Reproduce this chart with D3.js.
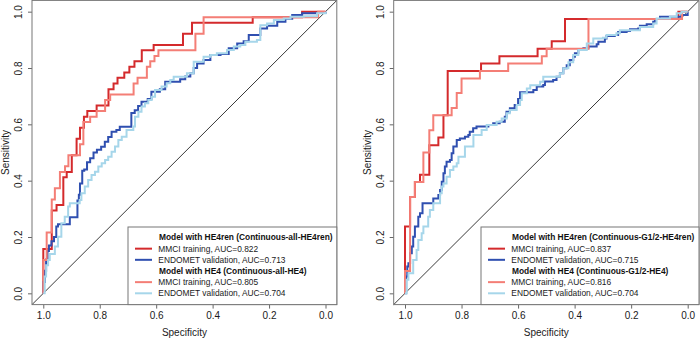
<!DOCTYPE html>
<html>
<head>
<meta charset="utf-8">
<script src="https://cdn.jsdelivr.net/npm/d3@7"></script>
<style>
  body { margin: 0; background: #fff; }
  svg { display: block; font-family: "Liberation Sans", Arial, sans-serif; }
</style>
</head>
<body>
<svg id="chart" width="700" height="349"></svg>
<script>
const tickValues = [0, 0.2, 0.4, 0.6, 0.8, 1.0]

// left panel, all grades - HE4ren model
const allRenTrainSpec = [1, 1, 0.97, 0.953, 0.929, 0.917, 0.899, 0.882, 0.87, 0.856, 0.844, 0.811, 0.769, 0.751, 0.737, 0.713, 0.695, 0.677, 0.651, 0.609, 0.505, 0.473, 0.258, 0.083, 0]
const allRenTrainSens = [0, 0.157, 0.294, 0.314, 0.412, 0.431, 0.49, 0.549, 0.588, 0.627, 0.647, 0.667, 0.725, 0.745, 0.765, 0.784, 0.804, 0.824, 0.863, 0.882, 0.922, 0.961, 0.98, 1, 1]
const allRenValSpec = [1, 1, 0.994, 0.99, 0.985, 0.98, 0.971, 0.962, 0.954, 0.948, 0.906, 0.879, 0.874, 0.87, 0.862, 0.855, 0.845, 0.834, 0.822, 0.81, 0.795, 0.782, 0.77, 0.758, 0.741, 0.729, 0.688, 0.676, 0.664, 0.652, 0.63, 0.617, 0.587, 0.568, 0.515, 0.497, 0.479, 0.467, 0.455, 0.432, 0.408, 0.372, 0.343, 0.313, 0.29, 0.272, 0.231, 0.207, 0.171, 0.142, 0.118, 0.083, 0.03, 0]
const allRenValSens = [0, 0.04, 0.08, 0.12, 0.15, 0.17, 0.185, 0.2, 0.237, 0.245, 0.27, 0.33, 0.35, 0.39, 0.435, 0.44, 0.465, 0.48, 0.5, 0.51, 0.52, 0.538, 0.555, 0.574, 0.58, 0.591, 0.64, 0.65, 0.665, 0.68, 0.69, 0.716, 0.725, 0.751, 0.76, 0.77, 0.781, 0.8, 0.816, 0.828, 0.846, 0.85, 0.87, 0.887, 0.895, 0.917, 0.94, 0.95, 0.964, 0.975, 0.988, 0.994, 0.996, 1]

// left panel, all grades - HE4 model
const allTrainSpec = [1, 1, 0.988, 0.97, 0.959, 0.941, 0.923, 0.911, 0.87, 0.858, 0.834, 0.811, 0.781, 0.763, 0.68, 0.666, 0.633, 0.621, 0.606, 0.592, 0.461, 0.432, 0.026, 0]
const allTrainSens = [0, 0.118, 0.216, 0.333, 0.373, 0.431, 0.451, 0.49, 0.529, 0.608, 0.627, 0.647, 0.686, 0.706, 0.745, 0.765, 0.804, 0.824, 0.843, 0.863, 0.922, 0.98, 1, 1]
const allValSpec = [1, 0.995, 0.99, 0.983, 0.977, 0.959, 0.948, 0.936, 0.924, 0.912, 0.906, 0.871, 0.865, 0.853, 0.841, 0.829, 0.817, 0.805, 0.793, 0.781, 0.77, 0.758, 0.746, 0.734, 0.722, 0.705, 0.681, 0.675, 0.663, 0.652, 0.64, 0.628, 0.616, 0.604, 0.581, 0.563, 0.55, 0.538, 0.491, 0.467, 0.432, 0.408, 0.385, 0.349, 0.325, 0.302, 0.284, 0.243, 0.231, 0.207, 0.183, 0.148, 0.124, 0.077, 0.03, 0]
const allValSens = [0, 0.06, 0.1, 0.118, 0.14, 0.166, 0.201, 0.249, 0.272, 0.308, 0.32, 0.331, 0.355, 0.379, 0.402, 0.42, 0.432, 0.45, 0.462, 0.473, 0.485, 0.503, 0.521, 0.544, 0.556, 0.58, 0.592, 0.627, 0.645, 0.663, 0.675, 0.686, 0.698, 0.722, 0.734, 0.746, 0.757, 0.769, 0.781, 0.822, 0.84, 0.846, 0.852, 0.864, 0.876, 0.882, 0.893, 0.899, 0.952, 0.958, 0.97, 0.976, 0.982, 0.984, 0.994, 1]

// right panel, G1/2 - HE4ren model
const g12RenTrainSpec = [1, 1, 0.982, 0.965, 0.947, 0.914, 0.882, 0.864, 0.849, 0.731, 0.666, 0.531, 0.481, 0.434, 0.033, 0]
const g12RenTrainSens = [0, 0.237, 0.342, 0.395, 0.421, 0.526, 0.553, 0.632, 0.789, 0.816, 0.842, 0.868, 0.895, 0.974, 1, 1]
const g12RenValSpec = [1, 0.996, 0.992, 0.988, 0.982, 0.976, 0.971, 0.965, 0.953, 0.947, 0.938, 0.9, 0.882, 0.876, 0.87, 0.864, 0.859, 0.853, 0.841, 0.835, 0.829, 0.817, 0.806, 0.788, 0.776, 0.771, 0.759, 0.747, 0.705, 0.688, 0.665, 0.647, 0.641, 0.629, 0.612, 0.6, 0.593, 0.546, 0.534, 0.511, 0.505, 0.476, 0.464, 0.452, 0.44, 0.428, 0.417, 0.405, 0.399, 0.387, 0.369, 0.351, 0.322, 0.316, 0.293, 0.287, 0.258, 0.246, 0.216, 0.204, 0.175, 0.169, 0.145, 0.122, 0.116, 0.098, 0.022, 0]
const g12RenValSens = [0, 0.06, 0.095, 0.107, 0.142, 0.166, 0.201, 0.237, 0.272, 0.284, 0.32, 0.337, 0.349, 0.367, 0.396, 0.426, 0.45, 0.467, 0.473, 0.497, 0.521, 0.544, 0.55, 0.556, 0.562, 0.574, 0.586, 0.592, 0.598, 0.604, 0.609, 0.627, 0.645, 0.657, 0.669, 0.69, 0.714, 0.722, 0.734, 0.74, 0.752, 0.757, 0.769, 0.781, 0.799, 0.81, 0.828, 0.84, 0.852, 0.864, 0.87, 0.876, 0.884, 0.893, 0.905, 0.914, 0.917, 0.928, 0.931, 0.938, 0.94, 0.95, 0.955, 0.964, 0.974, 0.982, 0.988, 1]

// right panel, G1/2 - HE4 model
const g12TrainSpec = [1, 1, 0.982, 0.965, 0.935, 0.914, 0.9, 0.835, 0.817, 0.8, 0.735, 0.635, 0.516, 0.499, 0.351, 0.02, 0]
const g12TrainSens = [0, 0.079, 0.342, 0.395, 0.5, 0.579, 0.632, 0.658, 0.711, 0.763, 0.789, 0.816, 0.842, 0.868, 0.974, 1, 1]
const g12ValSpec = [1, 0.994, 0.988, 0.971, 0.959, 0.953, 0.941, 0.935, 0.918, 0.912, 0.9, 0.876, 0.87, 0.864, 0.853, 0.841, 0.829, 0.817, 0.811, 0.788, 0.758, 0.729, 0.711, 0.676, 0.658, 0.64, 0.629, 0.605, 0.593, 0.587, 0.569, 0.557, 0.522, 0.511, 0.452, 0.44, 0.422, 0.405, 0.387, 0.357, 0.334, 0.3, 0.287, 0.252, 0.24, 0.169, 0.122, 0.11, 0.063, 0.039, 0.022, 0]
const g12ValSens = [0, 0.048, 0.071, 0.118, 0.154, 0.189, 0.213, 0.237, 0.272, 0.296, 0.32, 0.355, 0.379, 0.39, 0.414, 0.438, 0.45, 0.462, 0.485, 0.521, 0.562, 0.58, 0.598, 0.609, 0.621, 0.639, 0.651, 0.669, 0.686, 0.71, 0.727, 0.739, 0.751, 0.769, 0.781, 0.799, 0.82, 0.846, 0.864, 0.887, 0.905, 0.907, 0.917, 0.923, 0.934, 0.946, 0.958, 0.976, 0.982, 0.994, 1, 1]

const seriesColors = ['#d42a2c', '#2f4fb0', '#f47e76', '#a6d6ea']
const seriesLabels = ['MMCI training', 'ENDOMET validation', 'MMCI training', 'ENDOMET validation']

const panels = [
  {
    x0: 32, x1: 336.8,
    heads: ['Model with HE4ren (Continuous-all-HE4ren)', 'Model with HE4 (Continuous-all-HE4)'],
    auc: ['0.822', '0.713', '0.805', '0.704'],
    curves: [[allRenTrainSpec, allRenTrainSens], [allRenValSpec, allRenValSens], [allTrainSpec, allTrainSens], [allValSpec, allValSens]],
    legendX: 128
  },
  {
    x0: 393.7, x1: 699,
    heads: ['Model with HE4ren (Continuous-G1/2-HE4ren)', 'Model with HE4 (Continuous-G1/2-HE4)'],
    auc: ['0.837', '0.715', '0.816', '0.704'],
    curves: [[g12RenTrainSpec, g12RenTrainSens], [g12RenValSpec, g12RenValSens], [g12TrainSpec, g12TrainSens], [g12ValSpec, g12ValSens]],
    legendX: 481
  }
]

const svg = d3.select('svg#chart')
const plotTop = 0.4, plotBottom = 304.6

panels.forEach(p => {
  const x = d3.scaleLinear().domain([1.04, -0.04]).range([p.x0, p.x1])
  const y = d3.scaleLinear().domain([-0.04, 1.04]).range([plotBottom, plotTop])
  const g = svg.append('g')

  // diagonal reference line
  g.append('line')
    .attr('x1', x(1.04)).attr('y1', y(-0.04))
    .attr('x2', x(-0.04)).attr('y2', y(1.04))
    .attr('stroke', '#3a3a3a').attr('stroke-width', 1)

  const line = d3.line()
    .x(d => x(d[0]))
    .y(d => y(d[1]))
    .curve(d3.curveStepAfter)

  p.curves.forEach((c, i) => {
    const pts = c[0].map((s, k) => [s, c[1][k]])
    g.append('path')
      .datum(pts)
      .attr('d', line)
      .attr('fill', 'none')
      .attr('stroke', seriesColors[i])
      .attr('stroke-width', 2)
  })

  // x axis
  const xAxis = g.append('g')
    .attr('transform', `translate(0,${plotBottom})`)
    .call(d3.axisBottom(x).tickValues(tickValues).tickFormat(d3.format('.1f')).tickSize(4).tickPadding(3))
  xAxis.select('.domain').remove()
  xAxis.selectAll('line').attr('stroke', '#666')
  xAxis.selectAll('text').attr('font-size', 10).attr('fill', '#1a1a1a')
    .attr('font-family', '"Liberation Sans", Arial, sans-serif')

  // y axis, labels rotated like base R
  const yAxis = g.append('g')
    .attr('transform', `translate(${p.x0},0)`)
    .call(d3.axisLeft(y).tickValues(tickValues).tickFormat(d3.format('.1f')).tickSize(4))
  yAxis.select('.domain').remove()
  yAxis.selectAll('line').attr('stroke', '#666')
  yAxis.selectAll('text')
    .attr('x', 0).attr('dy', null)
    .attr('text-anchor', 'middle')
    .attr('transform', 'translate(-10,0) rotate(-90)')
    .attr('font-size', 10).attr('fill', '#1a1a1a')
    .attr('font-family', '"Liberation Sans", Arial, sans-serif')

  // frame
  g.append('rect')
    .attr('x', p.x0).attr('y', plotTop)
    .attr('width', p.x1 - p.x0).attr('height', plotBottom - plotTop)
    .attr('fill', 'none').attr('stroke', '#777').attr('stroke-width', 1)

  g.append('text')
    .attr('x', (p.x0 + p.x1) / 2).attr('y', 336)
    .attr('text-anchor', 'middle').attr('font-size', 10).attr('fill', '#1a1a1a')
    .text('Specificity')

  g.append('text')
    .attr('transform', `translate(${p.x0 - 23},${(plotTop + plotBottom) / 2}) rotate(-90)`)
    .attr('text-anchor', 'middle').attr('font-size', 10).attr('fill', '#1a1a1a')
    .text('Sensitivity')

  // legend
  const lg = g.append('g').attr('transform', `translate(${p.legendX},227)`)
  lg.append('rect')
    .attr('x', 0).attr('y', 0)
    .attr('width', p.x1 - p.legendX).attr('height', plotBottom - 227)
    .attr('fill', '#fff').attr('stroke', '#777').attr('stroke-width', 1)

  const rows = [
    {head: p.heads[0]},
    {s: 0}, {s: 1},
    {head: p.heads[1]},
    {s: 2}, {s: 3}
  ]
  const rowY = d3.scaleLinear().domain([0, 5]).range([10.5, 66.3])
  rows.forEach((r, i) => {
    const yy = rowY(i)
    if (r.head) {
      lg.append('text')
        .attr('x', 31).attr('y', yy).attr('dy', '0.35em')
        .attr('font-size', 8.4).attr('font-weight', 'bold').attr('fill', '#111')
        .text(r.head)
    } else {
      lg.append('line')
        .attr('x1', 7).attr('x2', 24).attr('y1', yy).attr('y2', yy)
        .attr('stroke', seriesColors[r.s]).attr('stroke-width', 2)
      lg.append('text')
        .attr('x', 30.3).attr('y', yy).attr('dy', '0.35em')
        .attr('font-size', 8.4).attr('fill', '#1a1a1a')
        .text(`${seriesLabels[r.s]}, AUC=${p.auc[r.s]}`)
    }
  })
})
</script>
</body>
</html>
